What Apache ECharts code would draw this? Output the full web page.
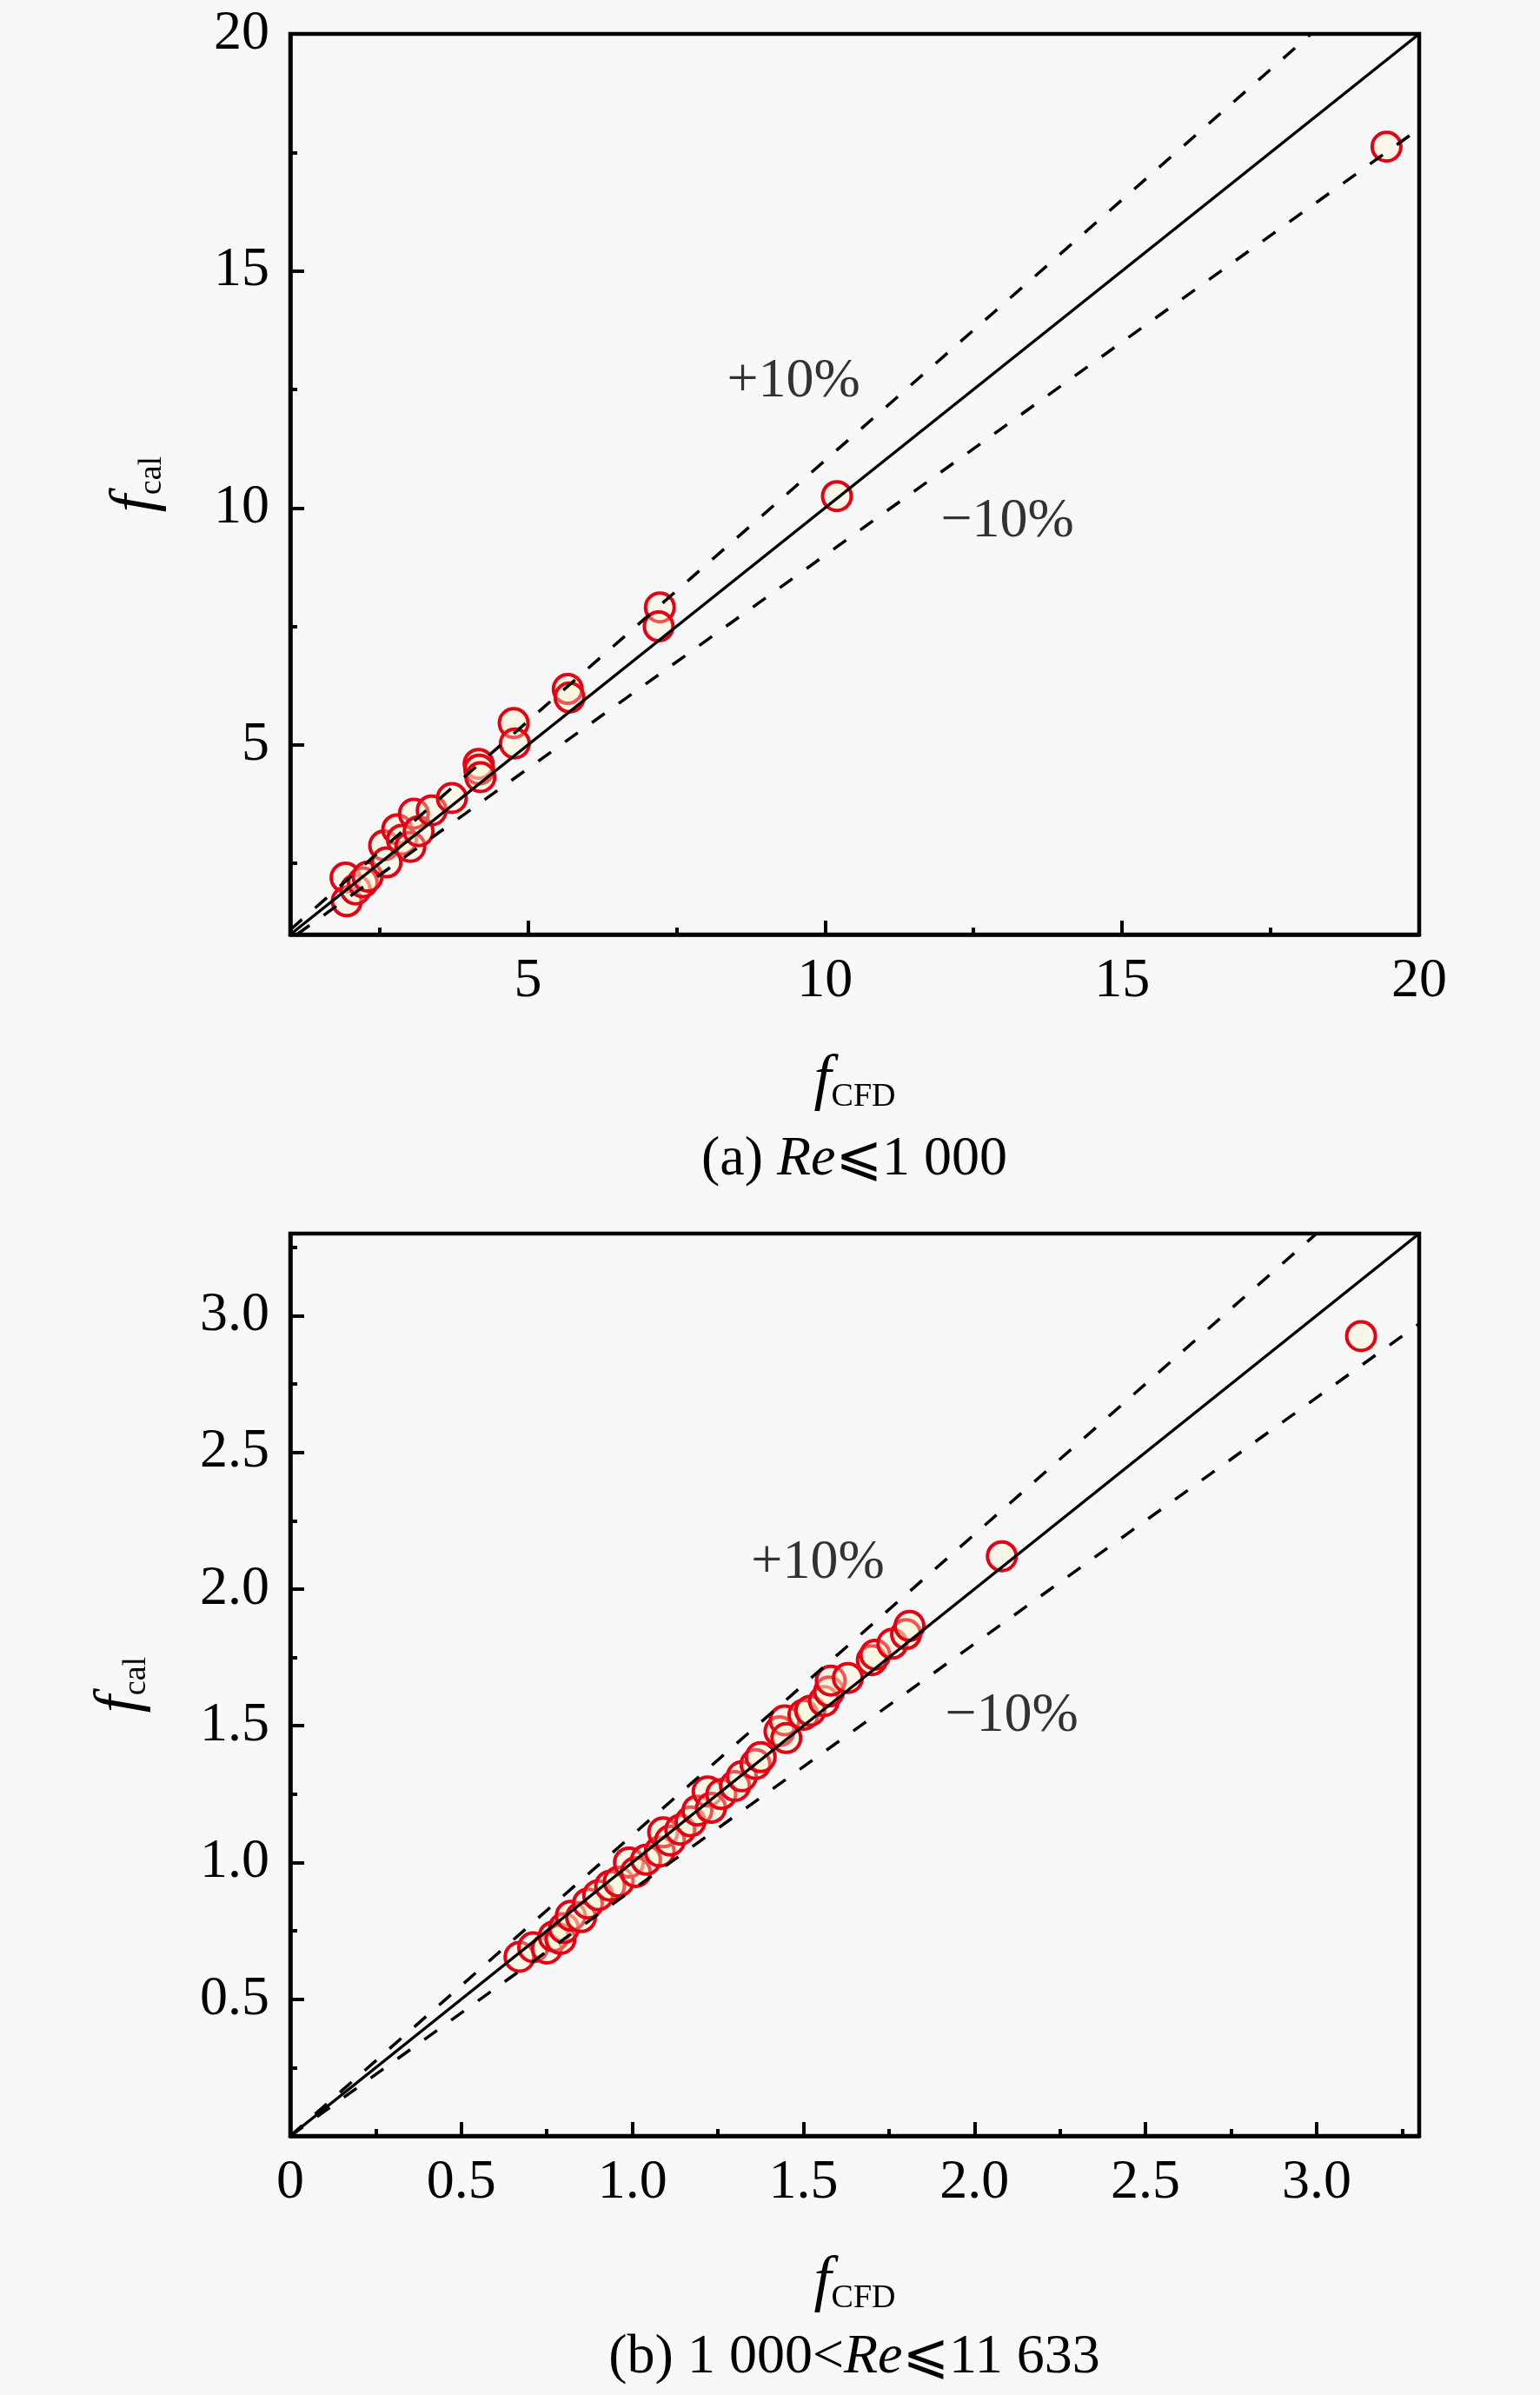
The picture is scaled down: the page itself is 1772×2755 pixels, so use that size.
<!DOCTYPE html>
<html>
<head>
<meta charset="utf-8">
<script src="https://cdn.jsdelivr.net/npm/echarts@6/dist/echarts.min.js"></script>
<style>
  html, body { margin: 0; padding: 0; background: #f8f8f8; }
  #chart { width: 1772px; height: 2755px; }
</style>
</head>
<body>
<div id="chart"></div>
<script>
// f_cal vs f_CFD, two panels: (a) Re <= 1000, (b) 1000 < Re <= 11633.
// Points.

const ptsA = [
  [1.93, 2.20], [1.95, 1.70], [2.10, 1.95], [2.22, 2.10], [2.30, 2.22],
  [2.58, 2.88], [2.62, 2.52], [2.80, 3.22], [2.88, 3.00], [3.02, 2.85],
  [3.08, 3.55], [3.16, 3.18], [3.38, 3.62], [3.72, 3.88],
  [4.17, 4.60], [4.18, 4.48], [4.20, 4.32],
  [4.76, 5.46], [4.78, 5.03],
  [5.67, 6.18], [5.70, 6.00],
  [7.22, 7.90], [7.20, 7.50],
  [10.2, 10.25], [19.45, 17.62]
]

const ptsB = [
  [0.67, 0.655], [0.71, 0.69], [0.75, 0.685], [0.77, 0.73], [0.79, 0.72], [0.80, 0.76], [0.82, 0.805],
  [0.85, 0.80], [0.87, 0.85], [0.90, 0.88], [0.935, 0.915], [0.96, 0.93], [0.99, 1.00], [1.01, 0.965],
  [1.04, 1.01], [1.08, 1.04], [1.09, 1.11], [1.11, 1.08], [1.14, 1.12], [1.17, 1.15], [1.19, 1.19],
  [1.22, 1.26], [1.23, 1.20], [1.26, 1.25], [1.30, 1.28], [1.32, 1.315], [1.36, 1.36], [1.375, 1.385],
  [1.43, 1.48], [1.445, 1.52], [1.45, 1.455], [1.50, 1.54], [1.52, 1.555], [1.56, 1.59], [1.575, 1.625],
  [1.58, 1.665], [1.63, 1.675], [1.70, 1.74], [1.71, 1.76], [1.76, 1.80], [1.80, 1.835], [1.81, 1.865],
  [2.08, 2.12], [3.13, 2.925]
]

// reference lines: y = x and +/-10 % bands, end points clipped to the frame
const solidA = [[1, 1], [20, 20]]
const plusA = [[1, 1.1], [18.18, 20]]
const minusA = [[1.11, 1], [20, 18]]
const solidB = [[0, 0], [3.3, 3.3]]
const plusB = [[0, 0], [3.0, 3.3]]
const minusB = [[0, 0], [3.3, 2.97]]

// band labels (x, y, text)
const notesA = [[9.47, 12.66, '+10%'], [13.07, 9.70, '\u221210%']]
const notesB = [[1.542, 2.095, '+10%'], [2.109, 1.536, '\u221210%']]

// ticks and labels
const majorA = [5, 10, 15, 20]
const minorA = [2.5, 7.5, 12.5, 17.5]
const labelsA = [5, 10, 15, 20]
const majorB = [0.5, 1, 1.5, 2, 2.5, 3]
const minorB = [0.25, 0.75, 1.25, 1.75, 2.25, 2.75, 3.25]
const xLabelsB = [0, 0.5, 1, 1.5, 2, 2.5, 3]
const yLabelsB = [0.5, 1, 1.5, 2, 2.5, 3]

const FONT = "'Liberation Serif', 'Times New Roman', 'DejaVu Serif', serif"
const RED = '#e60012'
const TEXT_SIZE = 64

const nameRich = {
  f: { fontFamily: FONT, fontStyle: 'italic', fontSize: 72, lineHeight: 74, color: '#000' },
  s: { fontFamily: FONT, fontSize: 38, lineHeight: 22, verticalAlign: 'bottom', color: '#000' }
}

function axes(gridIndex, dim, min, max, major, minor, labels, fmt, nameGap) {
  const isX = dim === 'x'
  const pos = isX ? 'bottom' : 'left'
  const main = {
    type: 'value', gridIndex, min, max, position: pos,
    axisLine: { show: true, onZero: false, lineStyle: { color: '#000', width: 4.5 } },
    axisTick: { show: true, inside: true, length: 16, customValues: major, lineStyle: { color: '#000', width: 4 } },
    axisLabel: {
      show: true, customValues: labels, formatter: fmt, margin: isX ? 22 : 24,
      color: '#000', fontFamily: FONT, fontSize: TEXT_SIZE
    },
    splitLine: { show: false },
    name: isX ? '{f|f}{s|CFD}' : '{f|f}{s|cal}',
    nameLocation: 'middle',
    nameGap,
    nameRotate: isX ? 0 : 90,
    nameTextStyle: { rich: nameRich }
  }
  // second axis on the same side just for the short minor ticks
  const sub = {
    type: 'value', gridIndex, min, max, position: pos,
    axisLine: { show: false, onZero: false },
    axisTick: { show: true, inside: true, length: 8, customValues: minor, lineStyle: { color: '#000', width: 4 } },
    axisLabel: { show: false },
    splitLine: { show: false }
  }
  return [main, sub]
}

const fmtA = function (v) { return String(v) }
const fmtB = function (v) { return v === 0 ? '0' : v.toFixed(1) }

function lineSeries(xi, yi, data, dashed) {
  return {
    type: 'line', xAxisIndex: xi, yAxisIndex: yi, data, symbol: 'none', silent: true, z: 4,
    lineStyle: { color: '#000', width: 3.5, type: dashed ? [18, 20] : 'solid' }
  }
}

function pointSeries(xi, yi, data) {
  return {
    type: 'scatter', xAxisIndex: xi, yAxisIndex: yi, data, symbol: 'circle', symbolSize: 33, z: 3,
    itemStyle: { color: 'rgba(255, 246, 205, 0.35)', borderColor: RED, borderWidth: 4, opacity: 1 }
  }
}

function noteSeries(xi, yi, data) {
  return {
    type: 'scatter', xAxisIndex: xi, yAxisIndex: yi, data, symbolSize: 1, z: 5, silent: true,
    itemStyle: { color: 'rgba(0,0,0,0)' },
    label: {
      show: true, position: 'inside', formatter: function (p) { return p.value[2] },
      color: '#000', fontFamily: FONT, fontSize: TEXT_SIZE
    }
  }
}

const captionRich = {
  n: { fontFamily: FONT + ", 'DejaVu Sans', 'Noto Sans CJK SC'", fontSize: TEXT_SIZE, fill: '#000' },
  i: { fontFamily: FONT, fontSize: TEXT_SIZE, fontStyle: 'italic', fill: '#000' }
}

const chart = echarts.init(document.getElementById('chart'))
chart.setOption({
  animation: false,
  backgroundColor: '#f8f8f8',
  grid: [
    { left: 334, top: 39, width: 1299, height: 1036, show: true, borderColor: '#000', borderWidth: 4.5, backgroundColor: 'transparent' },
    { left: 334, top: 1419, width: 1299, height: 1038, show: true, borderColor: '#000', borderWidth: 4.5, backgroundColor: 'transparent' }
  ],
  xAxis: [
    ...axes(0, 'x', 1, 20, majorA, minorA, labelsA, fmtA, 132),
    ...axes(1, 'x', 0, 3.3, majorB, minorB, xLabelsB, fmtB, 132)
  ],
  yAxis: [
    ...axes(0, 'y', 1, 20, majorA, minorA, labelsA, fmtA, 140),
    ...axes(1, 'y', 0, 3.3, majorB, minorB, yLabelsB, fmtB, 158)
  ],
  series: [
    pointSeries(0, 0, ptsA),
    lineSeries(0, 0, solidA, false),
    lineSeries(0, 0, plusA, true),
    lineSeries(0, 0, minusA, true),
    noteSeries(0, 0, notesA),
    pointSeries(2, 2, ptsB),
    lineSeries(2, 2, solidB, false),
    lineSeries(2, 2, plusB, true),
    lineSeries(2, 2, minusB, true),
    noteSeries(2, 2, notesB)
  ],
  graphic: [
    {
      type: 'text', x: 983, y: 1334,
      style: { text: '{n|(a) }{i|Re}{n|\u2A7D1 000}', rich: captionRich, align: 'center', verticalAlign: 'middle' }
    },
    {
      type: 'text', x: 983, y: 2712,
      style: { text: '{n|(b) 1 000<}{i|Re}{n|\u2A7D11 633}', rich: captionRich, align: 'center', verticalAlign: 'middle' }
    }
  ]
})
</script>
</body>
</html>
